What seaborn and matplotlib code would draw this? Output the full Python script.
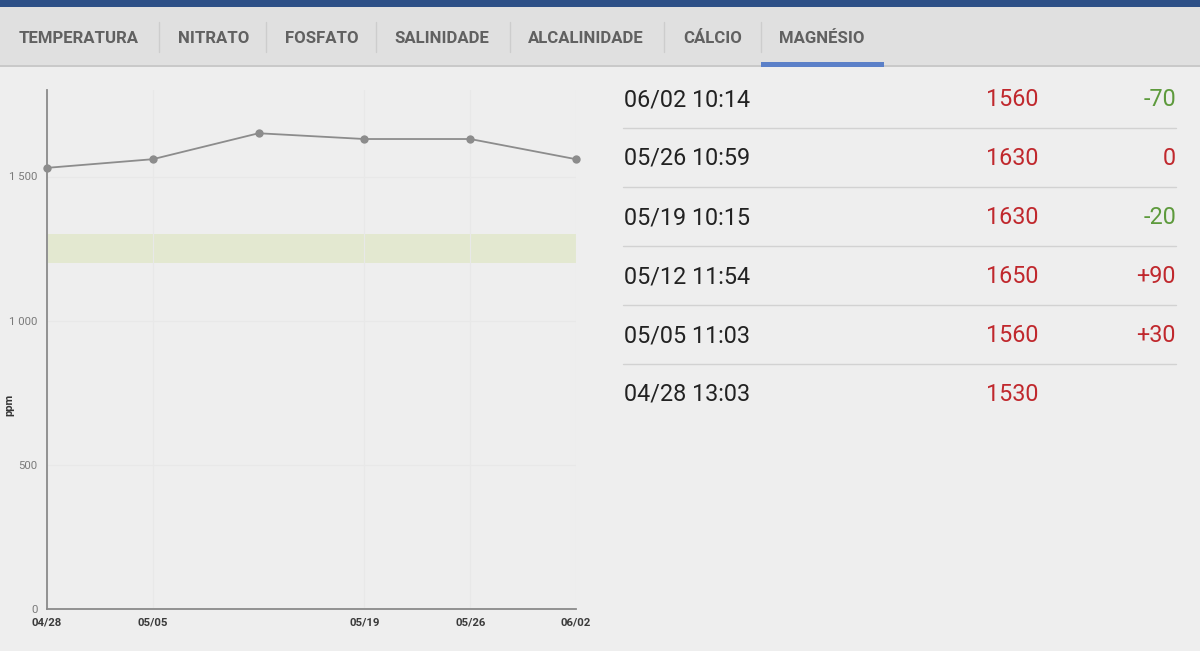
import matplotlib

matplotlib.use("Agg")
import matplotlib.dates as mdates
import matplotlib.pyplot as plt
import pandas as pd
import seaborn as sns
from matplotlib.lines import Line2D
from matplotlib.patches import Rectangle
from matplotlib.ticker import FuncFormatter

BG = "#eeeeee"
TAB_BG = "#e0e0e0"
TOP_BAR = "#2d5087"
TAB_TEXT = "#616161"
ACCENT = "#5b80c8"
LINE = "#8c8c8c"
AXIS = "#8a8a8a"
BAND = "#e3e8d0"
RED = "#c0282d"
GREEN = "#5d9a3c"
DARK = "#222222"
SEP = "#d2d2d2"

W, H = 1200, 651

# chart series (oldest first)
dates = ["2016-04-28", "2016-05-05", "2016-05-12", "2016-05-19", "2016-05-26", "2016-06-02"]
values = [1530, 1560, 1650, 1630, 1630, 1560]
tick_dates = ["2016-04-28", "2016-05-05", "2016-05-19", "2016-05-26", "2016-06-02"]
band_low, band_high = 1200, 1300

# history table (newest first)
row_labels = ["06/02 10:14", "05/26 10:59", "05/19 10:15", "05/12 11:54", "05/05 11:03", "04/28 13:03"]
row_values = ["1560", "1630", "1630", "1650", "1560", "1530"]
row_deltas = ["-70", "0", "-20", "+90", "+30", ""]

tabs = ["TEMPERATURA", "NITRATO", "FOSFATO", "SALINIDADE", "ALCALINIDADE", "CÁLCIO", "MAGNÉSIO"]
tab_x = [19, 178, 285, 394, 528, 683, 779]
tab_sep_x = [159, 266, 376, 510, 664, 761]

sns.set_style("white")
plt.rcParams["font.family"] = ["Roboto", "DejaVu Sans"]

fig = plt.figure(figsize=(W / 100, H / 100), dpi=100, facecolor=BG)


def fx(px):
    return px / W


def fy(py):
    return 1 - py / H


# top app bar + tab strip
fig.add_artist(Rectangle((0, fy(7)), 1, 7 / H, transform=fig.transFigure, color=TOP_BAR, lw=0))
fig.add_artist(Rectangle((0, fy(65)), 1, 58 / H, transform=fig.transFigure, color=TAB_BG, lw=0))
fig.add_artist(Rectangle((0, fy(67)), 1, 2 / H, transform=fig.transFigure, color="#c9c9c9", lw=0))
fig.add_artist(Rectangle((fx(761), fy(67)), fx(884) - fx(761), 5 / H,
                         transform=fig.transFigure, color=ACCENT, lw=0))
for label, x in zip(tabs, tab_x):
    fig.text(fx(x), fy(38.5), label, color=TAB_TEXT, fontsize=12.1, fontweight="bold",
             ha="left", va="center")
for x in tab_sep_x:
    fig.add_artist(Line2D([fx(x), fx(x)], [fy(22), fy(52)], transform=fig.transFigure,
                          color="#cdcdcd", lw=1))

# chart
df = pd.DataFrame({"date": pd.to_datetime(dates), "value": values})
ax = fig.add_axes([fx(47), 1 - 609 / H, fx(576) - fx(47), (609 - 90) / H])
ax.set_facecolor(BG)
ax.axhspan(band_low, band_high, color=BAND, lw=0, zorder=0)
sns.lineplot(data=df, x="date", y="value", ax=ax, color=LINE, lw=1.3, marker="o",
             markersize=6, markeredgewidth=0, markerfacecolor=LINE, clip_on=False, zorder=3)

ax.set_xlim(pd.Timestamp(dates[0]), pd.Timestamp(dates[-1]))
ax.set_ylim(0, 1800)
ax.set_xticks(pd.to_datetime(tick_dates))
ax.xaxis.set_major_formatter(mdates.DateFormatter("%m/%d"))
ax.set_yticks([0, 500, 1000, 1500])
ax.yaxis.set_major_formatter(FuncFormatter(lambda v, _: f"{int(v):,}".replace(",", " ")))
ax.grid(True, color="#e8e8e8", lw=0.8)
for side in ["top", "right"]:
    ax.spines[side].set_visible(False)
for side in ["left", "bottom"]:
    ax.spines[side].set_color(AXIS)
    ax.spines[side].set_linewidth(1.3)
ax.tick_params(axis="both", direction="out", length=4, width=1, color=AXIS)
ax.tick_params(axis="y", labelsize=8.2, labelcolor="#7a7a7a", pad=3)
ax.tick_params(axis="x", labelsize=8.2, labelcolor="#3a3a3a", pad=2)
for t in ax.get_xticklabels():
    t.set_fontweight("bold")
ax.set_xlabel("")
ax.set_ylabel("")
fig.text(fx(9), fy(405), "ppm", rotation=90, fontsize=8, fontweight="bold",
         color="#333333", ha="center", va="center")

# history table
for i, (lab, val, dlt) in enumerate(zip(row_labels, row_values, row_deltas)):
    yc = 99.5 + 59 * i
    fig.text(fx(624), fy(yc), lab, color=DARK, fontsize=16.8, ha="left", va="center")
    fig.text(fx(1038), fy(yc), val, color=RED, fontsize=16.8, ha="right", va="center")
    if dlt:
        color = GREEN if dlt.startswith("-") else RED
        fig.text(fx(1176), fy(yc), dlt, color=color, fontsize=16.8, ha="right", va="center")
    if i < len(row_labels) - 1:
        ys = yc + 28
        fig.add_artist(Line2D([fx(623), fx(1176)], [fy(ys), fy(ys)],
                              transform=fig.transFigure, color=SEP, lw=1))

fig.savefig("out.png", dpi=100, facecolor=BG)
